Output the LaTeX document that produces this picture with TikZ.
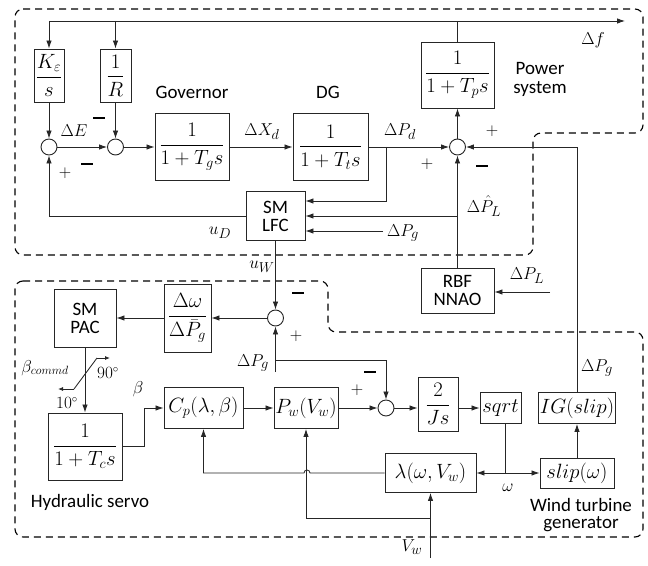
\documentclass[tikz,border=0pt]{standalone}
\usepackage{amsmath}
\usepackage{fontspec}
\setsansfont{Carlito}
\usetikzlibrary{arrows.meta}
\newcommand\negbar{\rule{12bp}{2.6bp}}
\tikzset{
  ln/.style={line width=0.85bp, draw=black!85},
  arr/.style={ln, -{Latex[length=8bp,width=5.5bp]}},
  sarr/.style={ln, -{Latex[length=5bp,width=4bp]}},
  blk/.style={draw=black!85, line width=0.9bp, inner sep=1bp, align=center, font=\fontsize{20}{22}\selectfont},
  sblk/.style={blk, font=\sffamily\fontsize{19}{21}\selectfont},
  sumc/.style={circle, draw=black!85, line width=0.9bp, minimum size=16bp, inner sep=0},
  lbl/.style={inner sep=0, font=\fontsize{19}{21}\selectfont},
  smlbl/.style={inner sep=0, font=\fontsize{16}{18}\selectfont},
  slbl/.style={inner sep=0, align=center, font=\sffamily\fontsize{19}{21}\selectfont},
  neg/.style={inner sep=0},
  region/.style={line width=1.1bp, dash pattern=on 7bp off 5bp, rounded corners=8bp},
}
\begin{document}
\begin{tikzpicture}[x=1bp,y=-1bp]
\useasboundingbox (0,0) rectangle (648,566);

% dashed regions
\draw[region] (15,9) -- (643,9) -- (643,133) -- (533,133) -- (533,255) -- (15,255) -- cycle;
\draw[region] (15,281) -- (328,281) -- (328,332) -- (643,332) -- (643,537) -- (15,537) -- cycle;

% ---- power system part
\node[blk, minimum width=30bp, minimum height=53bp] (ke) at (49,75.5) {$\dfrac{K_\varepsilon}{s}$};
\node[blk, minimum width=31bp, minimum height=53bp] (rr) at (115.5,75.5) {$\dfrac{1}{R}$};
\node[sumc] (s1) at (49,147) {};
\node[sumc] (s2) at (115.5,147) {};
\node[blk, minimum width=74bp, minimum height=67bp] (gov) at (192,147) {$\dfrac{1}{1+T_g s}$};
\node[blk, minimum width=75bp, minimum height=67bp] (dg) at (330.5,147) {$\dfrac{1}{1+T_t s}$};
\node[blk, minimum width=73bp, minimum height=66bp] (ps) at (457.5,75) {$\dfrac{1}{1+T_p s}$};
\node[sumc] (s3) at (457.5,147) {};
\node[sblk, minimum width=59bp, minimum height=49bp] (lfc) at (275.5,216) {SM\\[-3bp]LFC};
\node[sblk, minimum width=73bp, minimum height=45bp] (rbf) at (457.5,290.5) {RBF\\[-3bp]NNAO};

\node[slbl] (lgov) at (192,92) {Governor};
\node[slbl] (ldg) at (328,92) {DG};
\node[slbl] (lps) at (540,79) {Power\\[-2bp]system};

% ---- wind part
\node[sblk, minimum width=62bp, minimum height=58bp] (pac) at (85,318) {SM\\[-3bp]PAC};
\node[blk, minimum width=47bp, minimum height=68bp] (dw) at (187.5,318) {$\dfrac{\Delta\omega}{\Delta\bar{P}_g}$};
\node[sumc] (s4) at (275.5,318) {};
\node[blk, minimum width=74bp, minimum height=67bp] (tc) at (85,446.5) {$\dfrac{1}{1+T_c s}$};
\node[blk, minimum width=79bp, minimum height=41bp] (cp) at (203.5,408) {$C_p(\lambda,\beta)$};
\node[blk, minimum width=64bp, minimum height=41bp] (pw) at (306,408) {$P_w(V_w)$};
\node[sumc] (s5) at (386,408) {};
\node[blk, minimum width=40bp, minimum height=54bp] (js) at (438,404) {$\dfrac{2}{Js}$};
\node[blk, minimum width=41bp, minimum height=31bp] (sq) at (500.5,408) {$sqrt$};
\node[blk, minimum width=70bp, minimum height=31bp] (ig) at (577,408) {$IG(slip)$};
\node[blk, minimum width=74bp, minimum height=30bp] (slip) at (577,473) {$slip(\omega)$};
\node[blk, minimum width=91bp, minimum height=39bp] (lam) at (430.5,473) {$\lambda(\omega,V_w)$};

\node[slbl] (lhs) at (90,502) {Hydraulic servo};
\node[slbl, font=\sffamily\fontsize{19}{16.5}\selectfont] (lwt) at (581,515) {Wind turbine\\generator};

% coordinates
\coordinate (ftop) at (49,21);
\coordinate (fend) at (625,21);
\coordinate (pgin) at (383,231);
\coordinate (plin) at (550,292);
\coordinate (pg2) at (275.5,372);
\coordinate (pgb) at (275.5,360);
\coordinate (vw) at (430.5,558);
\coordinate (vwb) at (430.5,518);
\coordinate (dgb) at (386,147);
\coordinate (lhb) at (457.5,216);
\coordinate (wj) at (505,473);

% ---- connectors, power part
\draw[arr] (ftop) -- (fend);
\draw[ln] (ps.north) -- (ps.north |- ftop);
\draw[arr] (ftop) -- (ke.north);
\draw[arr] (rr.north |- ftop) -- (rr.north);
\draw[arr] (ke.south) -- (s1.north);
\draw[arr] (rr.south) -- (s2.north);
\draw[arr] (s1.east) -- (s2.west);
\draw[arr] (s2.east) -- (gov.west);
\draw[arr] (gov.east) -- (dg.west);
\draw[arr] (dg.east) -- (s3.west);
\draw[arr] (dgb) |- ([yshift=15bp]lfc.east);
\draw[arr] (s3.north) -- (ps.south);
\draw[arr] (rbf.north) -- (s3.south);
\draw[arr] (lhb) -- (lfc.east);
\draw[arr] (pgin) -- (lfc.east |- pgin);
\draw[arr] (lfc.west) -| (s1.south);
\draw[arr] (plin) -- (rbf.east |- plin);
\draw[arr] (ig.north) |- (s3.east);

% ---- connectors, wind part
\draw[arr] (lfc.south) -- (s4.north);
\draw[arr] (s4.west) -- (dw.east);
\draw[arr] (dw.west) -- (pac.east);
\draw[arr] (pg2) -- (s4.south);
\draw[arr] (pgb) -| (s5.north);
\draw[arr] (pac.south) -- (tc.north);
\draw[arr] (tc.east) -- ++(22,0) |- (cp.west);
\draw[arr] (cp.east) -- (pw.west);
\draw[arr] (pw.east) -- (s5.west);
\draw[arr] (s5.east) -- (js.west |- s5.east);
\draw[arr] (js.east |- sq.west) -- (sq.west);
\draw[ln] (sq.south -| wj) -- (wj);
\draw[arr] (wj) -- (lam.east);
\draw[arr] (wj) -- (slip.west);
\draw[arr] (slip.north) -- (ig.south);
\draw[arr] (lam.west) -- (310,473) arc[start angle=0, end angle=-180, radius=3] -- (cp.south |- lam.west) -- (cp.south);
\draw[arr] (vw) -- (lam.south);
\draw[arr] (vwb) -| (pw.south);

% saturation symbol
\draw[sarr] (74,389) -- (58,389);
\draw[ln] (74,389) -- (97,358);
\draw[sarr] (97,358) -- (110,358);

% ---- labels
\node[lbl] (lE) at (74,131) {$\Delta E$};
\node[lbl] (lXd) at (262,132) {$\Delta X_d$};
\node[lbl] (lPd) at (400,132) {$\Delta P_d$};
\node[lbl] (lf) at (593,40) {$\Delta f$};
\node[lbl] (lPLh) at (484,206) {$\Delta\hat{P}_L$};
\node[lbl] (lPg1) at (403,233) {$\Delta P_g$};
\node[lbl] (luD) at (220,233) {$u_D$};
\node[lbl] (luW) at (262,267) {$u_W$};
\node[lbl] (lPL) at (527,276) {$\Delta P_L$};
\node[lbl] (lPg2) at (253,363) {$\Delta P_g$};
\node[lbl, font=\fontsize{18}{20}\selectfont] (lbc) at (45,368) {$\beta_{commd}$};
\node[smlbl] (l90) at (108,373) {$90^{\circ}$};
\node[smlbl] (l10) at (67,403) {$10^{\circ}$};
\node[lbl] (lb) at (138,389) {$\beta$};
\node[lbl] (lPg3) at (597,368) {$\Delta P_g$};
\node[lbl] (lw) at (508,488) {$\omega$};
\node[lbl] (lVw) at (412,547) {$V_w$};

% signs
\node[lbl] (p1) at (65,173) {$+$};
\node[neg] (m1) at (87,164) {\negbar};
\node[neg] (m2) at (99,118) {\negbar};
\node[lbl] (p2) at (427,164) {$+$};
\node[lbl] (p3) at (492,131) {$+$};
\node[neg] (m3) at (482,166) {\negbar};
\node[neg] (m4) at (298,293) {\negbar};
\node[lbl] (p4) at (296,336) {$+$};
\node[lbl] (p5) at (357,390) {$+$};
\node[neg] (m5) at (370,372) {\negbar};
\end{tikzpicture}
\end{document}
